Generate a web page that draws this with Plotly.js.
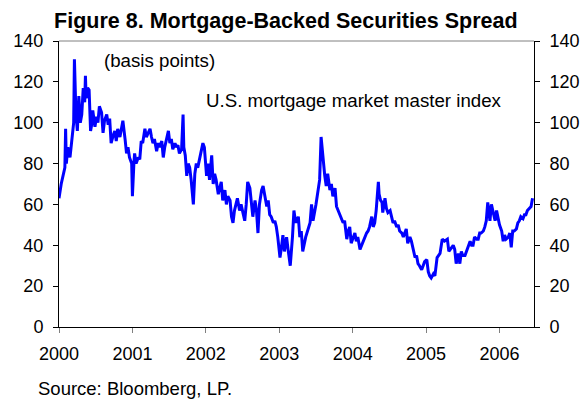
<!DOCTYPE html>
<html>
<head>
<meta charset="utf-8">
<script src="https://cdn.plot.ly/plotly-3.0.1.min.js"></script>
<style>html,body{margin:0;padding:0;background:#fff;}#chart{width:587px;height:400px;}</style>
</head>
<body>
<div id="chart"></div>
<script>
// Time in fractional years
const years = [
2000.00,2000.03,2000.08,2000.09,2000.10,2000.12,2000.15,2000.17,2000.18,2000.20,
2000.21,2000.23,2000.25,2000.27,2000.29,2000.31,2000.33,2000.35,2000.36,2000.37,
2000.39,2000.41,2000.43,2000.45,2000.46,2000.49,2000.51,2000.53,2000.55,2000.58,
2000.60,2000.62,2000.65,2000.67,2000.69,2000.71,2000.74,2000.76,2000.78,2000.80,
2000.83,2000.85,2000.87,2000.90,2000.92,2000.94,2000.96,2000.99,2001.00,2001.02,
2001.03,2001.05,2001.08,2001.10,2001.12,2001.14,2001.17,2001.19,2001.21,2001.24,
2001.26,2001.28,2001.30,2001.33,2001.35,2001.37,2001.40,2001.42,2001.44,2001.46,
2001.49,2001.51,2001.53,2001.55,2001.58,2001.60,2001.62,2001.64,2001.67,2001.69,
2001.70,2001.72,2001.74,2001.76,2001.78,2001.80,2001.83,2001.85,2001.87,2001.89,
2001.92,2001.94,2001.96,2001.98,2002.01,2002.03,2002.05,2002.08,2002.10,2002.12,
2002.14,2002.17,2002.19,2002.21,2002.23,2002.26,2002.28,2002.30,2002.33,2002.35,
2002.37,2002.39,2002.43,2002.44,2002.46,2002.48,2002.51,2002.53,2002.55,2002.57,
2002.60,2002.62,2002.64,2002.67,2002.69,2002.71,2002.73,2002.76,2002.78,2002.80,
2002.83,2002.85,2002.87,2002.89,2002.92,2002.94,2002.96,2002.98,2003.01,2003.03,
2003.05,2003.07,2003.10,2003.12,2003.15,2003.18,2003.20,2003.22,2003.23,2003.26,
2003.28,2003.30,2003.32,2003.36,2003.39,2003.42,2003.44,2003.46,2003.50,2003.53,
2003.55,2003.57,2003.59,2003.60,2003.62,2003.64,2003.66,2003.69,2003.71,2003.73,
2003.76,2003.78,2003.80,2003.82,2003.85,2003.87,2003.89,2003.92,2003.94,2003.96,
2003.98,2004.01,2004.03,2004.05,2004.07,2004.10,2004.12,2004.14,2004.16,2004.19,
2004.21,2004.23,2004.26,2004.28,2004.30,2004.32,2004.35,2004.36,2004.38,2004.40,
2004.41,2004.44,2004.46,2004.48,2004.51,2004.53,2004.55,2004.57,2004.60,2004.62,
2004.64,2004.67,2004.69,2004.71,2004.73,2004.75,2004.78,2004.80,2004.82,2004.85,
2004.87,2004.89,2004.91,2004.94,2004.96,2004.98,2005.01,2005.03,2005.05,2005.07,
2005.10,2005.12,2005.15,2005.19,2005.22,2005.25,2005.29,2005.31,2005.35,2005.37,
2005.39,2005.41,2005.44,2005.46,2005.48,2005.50,2005.53,2005.55,2005.57,2005.60,
2005.62,2005.64,2005.66,2005.69,2005.71,2005.73,2005.75,2005.78,2005.80,2005.82,
2005.84,2005.85,2005.87,2005.89,2005.91,2005.94,2005.96,2005.98,2006.00,2006.03,
2006.05,2006.07,2006.09,2006.12,2006.14,2006.16,2006.18,2006.20,2006.23,2006.25,
2006.27,2006.29,2006.32,2006.34,2006.36,2006.38,2006.40,2006.43,2006.45
];
// MBS spread, basis points
const spread = [
63,70,78,97,80,88,83,90,94,100,
131,105,96,113,100,104,117,110,123,112,
117,116,96,100,106,98,103,100,108,105,
95,101,104,99,102,90,94,96,91,97,
93,98,101,92,85,88,83,80,64,80,
85,80,83,82,91,90,97,93,95,97,
93,90,92,86,90,88,91,83,88,92,
96,90,92,87,90,88,89,85,87,104,
88,84,74,80,78,72,60,75,80,78,
84,86,90,88,74,80,72,84,70,75,
72,65,69,71,62,67,60,64,62,54,
51,57,63,60,57,60,56,52,60,71,
68,60,54,62,57,46,60,67,69,65,
59,62,55,54,51,52,49,44,34,39,
45,37,44,38,30,44,57,52,51,54,
44,47,37,44,47,51,60,52,60,69,
72,93,85,80,74,69,75,67,70,64,
68,59,57,55,53,51,52,43,47,49,
41,44,46,42,44,38,40,41,44,46,
47,49,54,49,51,57,71,65,62,61,
56,63,58,56,57,54,51,52,49,50,
47,46,44,46,48,41,44,42,38,34,
35,31,30,28,30,32,33,27,25,24,
26,25,34,36,43,42,43,37,39,40,
38,31,36,31,37,35,35,37,38,42,
40,40,44,43,43,46,46,47,49,52,
61,57,52,60,56,52,57,53,50,47,
42,45,43,44,46,39,47,47,48,51,
52,54,53,55,55,57,58,59,63
];
const yTicks = [0,20,40,60,80,100,120,140];
const xTickVals = [2000,2001,2002,2003,2004,2005,2006];
const xTickText = ["2000","2001","2002","2003","2004","2005","2006"];

const FONT = "Liberation Sans, Arial, sans-serif";

const trace = {
  x: years, y: spread, type: "scatter", mode: "lines",
  line: {color: "#0000FF", width: 3},
  hoverinfo: "skip", showlegend: false
};
// empty trace so the right-hand axis is drawn
const rightAxisHolder = {
  x: [], y: [], type: "scatter", mode: "lines", yaxis: "y2",
  hoverinfo: "skip", showlegend: false
};

const layout = {
  width: 587, height: 400,
  margin: {l: 59, r: 53, t: 41, b: 73},
  paper_bgcolor: "#fff", plot_bgcolor: "#fff",
  font: {family: FONT, size: 18, color: "#000"},
  title: {text: "<b>Figure 8. Mortgage-Backed Securities Spread</b>",
          font: {family: FONT, size: 21.5, color: "#000"},
          x: 0.487, xanchor: "center", xref: "container", y: 0.95, yanchor: "middle", yref: "container"},
  xaxis: {
    range: [2000, 2006.47], tickmode: "array", tickvals: xTickVals, ticktext: xTickText,
    ticks: "outside", ticklen: 5, tickcolor: "#808080", tickwidth: 1,
    showline: true, linecolor: "#000", linewidth: 1, showgrid: false, zeroline: false,
    tickfont: {family: FONT, size: 18}, ticklabelstandoff: 5
  },
  yaxis: {
    range: [0, 140], tickmode: "array", tickvals: yTicks,
    ticks: "outside", ticklen: 5, tickcolor: "#000", tickwidth: 1,
    showline: true, linecolor: "#000", linewidth: 1, showgrid: false, zeroline: false,
    tickfont: {family: FONT, size: 18}, ticklabelstandoff: 6
  },
  yaxis2: {
    range: [0, 140], tickmode: "array", tickvals: yTicks, overlaying: "y", side: "right",
    ticks: "outside", ticklen: 5, tickcolor: "#000", tickwidth: 1,
    showline: true, linecolor: "#000", linewidth: 1, showgrid: false, zeroline: false,
    tickfont: {family: FONT, size: 18}, ticklabelstandoff: 6
  },
  shapes: [
    {type: "line", xref: "paper", yref: "paper", x0: 0, x1: 1, y0: 1, y1: 1,
     line: {color: "#808080", width: 1}}
  ],
  annotations: [
    {text: "(basis points)", xref: "paper", yref: "paper", x: 0.09, y: 0.933,
     xanchor: "left", yanchor: "middle", showarrow: false, font: {family: FONT, size: 18.7}},
    {text: "U.S. mortgage market master index", xref: "paper", yref: "paper", x: 0.305, y: 0.793,
     xanchor: "left", yanchor: "middle", showarrow: false, font: {family: FONT, size: 18.7}},
    {text: "Source: Bloomberg, LP.", xref: "paper", yref: "paper", x: -0.049, y: -0.215,
     xanchor: "left", yanchor: "middle", showarrow: false, font: {family: FONT, size: 18.5}}
  ]
};

Plotly.newPlot("chart", [trace, rightAxisHolder], layout, {staticPlot: true, displayModeBar: false});
</script>
</body>
</html>
